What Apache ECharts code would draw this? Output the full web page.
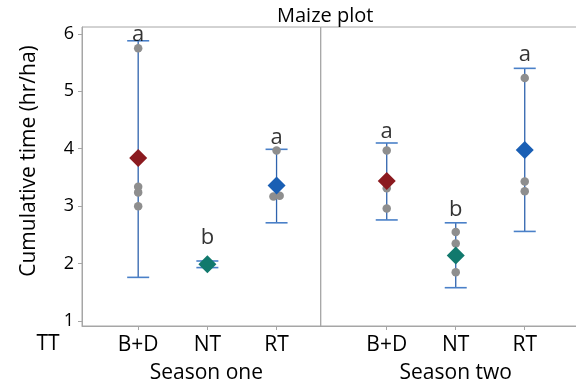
<!DOCTYPE html>
<html>
<head>
<meta charset="utf-8">
<script src="https://cdn.jsdelivr.net/npm/echarts@6/dist/echarts.min.js"></script>
<style>
  html, body { margin: 0; padding: 0; background: #fff; }
  #chart { width: 576px; height: 385px; }
</style>
</head>
<body>
<div id="chart"></div>
<script>
// treatments and seasons
const cats = ['B+D', 'NT', 'RT'];
const seasons = ['Season one', 'Season two'];
const yTicks = [1, 2, 3, 4, 5, 6];

// mean (diamond) per treatment
const meanOne = [3.84, 1.99, 3.36];
const meanTwo = [3.44, 2.14, 3.98];

// error bar ends
const upperOne = [5.88, 2.045, 3.99];
const lowerOne = [1.76, 1.93, 2.71];
const upperTwo = [4.10, 2.71, 5.40];
const lowerTwo = [2.76, 1.58, 2.56];

// individual observations (gray dots)
const pointsOne = [[5.75, 3.34, 3.24, 3.00], [1.97, 2.00, 2.02], [3.97, 3.17, 3.18]];
const pointsTwo = [[3.97, 3.31, 2.96], [2.55, 2.35, 1.85], [5.23, 3.43, 3.26]];
// small horizontal jitter of the dots, same shape as the point lists
const jitterOne = [[0, 0, 0, 0], [0, 0, 0], [0, -0.045, 0.045]];
const jitterTwo = [[0, 0, 0], [0, 0, 0], [0, 0, 0]];

// significance letters and the height they sit at
const lettersOne = ['a', 'b', 'a'];
const lettersTwo = ['a', 'b', 'a'];
const letterYOne = [5.99, 2.45, 4.19];
const letterYTwo = [4.30, 2.93, 5.63];

const diamondColors = ['#8b1a1f', '#11796d', '#1a5fb4'];
const font = 'Open Sans';

function errorSeries(gridIdx, upper, lower) {
  return {
    type: 'custom',
    xAxisIndex: gridIdx,
    yAxisIndex: gridIdx,
    encode: { x: 0, y: [1, 2] },
    data: cats.map((c, i) => [i + 1, upper[i], lower[i]]),
    z: 1,
    renderItem: function (params, api) {
      const x = api.value(0);
      const top = api.coord([x, api.value(1)]);
      const bot = api.coord([x, api.value(2)]);
      const hw = 11;
      return {
        type: 'group',
        children: [
          { type: 'line', shape: { x1: top[0], y1: top[1], x2: bot[0], y2: bot[1] },
            style: { stroke: '#2f63ad', lineWidth: 1.3 } },
          { type: 'line', shape: { x1: top[0] - hw, y1: top[1], x2: top[0] + hw, y2: top[1] },
            style: { stroke: '#4a80c8', lineWidth: 1.6 } },
          { type: 'line', shape: { x1: bot[0] - hw, y1: bot[1], x2: bot[0] + hw, y2: bot[1] },
            style: { stroke: '#4a80c8', lineWidth: 1.6 } }
        ]
      };
    }
  };
}

function pointSeries(gridIdx, points, jitter) {
  const data = [];
  points.forEach((list, i) => {
    list.forEach((v, j) => data.push([i + 1 + jitter[i][j], v]));
  });
  return {
    type: 'scatter',
    xAxisIndex: gridIdx,
    yAxisIndex: gridIdx,
    symbol: 'circle',
    symbolSize: 8.5,
    itemStyle: { color: '#8e8e8e', opacity: 1 },
    z: 2,
    data: data
  };
}

function meanSeries(gridIdx, means) {
  return {
    type: 'scatter',
    xAxisIndex: gridIdx,
    yAxisIndex: gridIdx,
    symbol: 'diamond',
    symbolSize: 18,
    z: 3,
    itemStyle: { opacity: 1 },
    data: means.map((v, i) => ({ value: [i + 1, v], itemStyle: { color: diamondColors[i], opacity: 1 } }))
  };
}

function letterSeries(gridIdx, letters, ys) {
  return {
    type: 'scatter',
    xAxisIndex: gridIdx,
    yAxisIndex: gridIdx,
    symbolSize: 0,
    silent: true,
    z: 4,
    label: {
      show: true,
      position: 'inside',
      color: '#000',
      fontFamily: font,
      fontSize: 22,
      formatter: p => letters[p.dataIndex]
    },
    data: ys.map((v, i) => [i + 1, v])
  };
}

function xAxis(gridIdx, min, max, name) {
  return {
    type: 'value',
    gridIndex: gridIdx,
    min: min,
    max: max,
    splitLine: { show: false },
    axisLine: { show: true, lineStyle: { color: '#a6a6a6' } },
    axisTick: { show: true, customValues: [1, 2, 3], length: 4, lineStyle: { color: '#a6a6a6' } },
    axisLabel: {
      customValues: [1, 2, 3],
      formatter: v => cats[Math.round(v) - 1],
      margin: 9,
      color: '#000',
      fontFamily: font,
      fontSize: 21
    },
    name: name,
    nameLocation: 'middle',
    nameGap: 37,
    nameTextStyle: { color: '#000', fontFamily: font, fontSize: 21, padding: [0, 0, 0, 10] }
  };
}

function yAxis(gridIdx, visible) {
  return {
    type: 'value',
    gridIndex: gridIdx,
    min: 0.913,
    max: 6.12,
    show: visible,
    splitLine: { show: false },
    axisLine: { show: true, lineStyle: { color: '#a6a6a6' } },
    axisTick: { show: true, customValues: yTicks, length: 4, lineStyle: { color: '#a6a6a6' } },
    axisLabel: { customValues: yTicks, margin: 8, color: '#000', fontFamily: font, fontSize: 18 },
    name: visible ? 'Cumulative time (hr/ha)' : '',
    nameLocation: 'middle',
    nameGap: 42,
    nameTextStyle: { color: '#000', fontFamily: font, fontSize: 21, padding: [0, 0, 0, 31] }
  };
}

const chart = echarts.init(document.getElementById('chart'), null, { renderer: 'canvas' });

chart.setOption({
  animation: false,
  backgroundColor: '#fff',
  title: {
    text: 'Maize plot',
    left: 272,
    top: 1,
    textStyle: { color: '#000', fontFamily: font, fontSize: 20, fontWeight: 'normal' }
  },
  graphic: [{
    type: 'text',
    x: 48,
    y: 344,
    style: { text: 'TT', fill: '#000', font: '21px "Open Sans"', textAlign: 'center', textVerticalAlign: 'middle' }
  }],
  grid: [
    { left: 82, top: 27, width: 238.7, height: 299, outerBoundsMode: 'none', containLabel: false,
      show: true, borderColor: '#a6a6a6', borderWidth: 1, backgroundColor: 'transparent' },
    { left: 320.7, top: 27, width: 260, height: 299, outerBoundsMode: 'none', containLabel: false,
      show: true, borderColor: '#a6a6a6', borderWidth: 1, backgroundColor: 'transparent' }
  ],
  xAxis: [
    xAxis(0, 0.188, 3.638, seasons[0]),
    xAxis(1, 0.043, 3.811, seasons[1])
  ],
  yAxis: [yAxis(0, true), yAxis(1, false)],
  series: [
    errorSeries(0, upperOne, lowerOne),
    errorSeries(1, upperTwo, lowerTwo),
    pointSeries(0, pointsOne, jitterOne),
    pointSeries(1, pointsTwo, jitterTwo),
    meanSeries(0, meanOne),
    meanSeries(1, meanTwo),
    letterSeries(0, lettersOne, letterYOne),
    letterSeries(1, lettersTwo, letterYTwo)
  ]
});
</script>
</body>
</html>
